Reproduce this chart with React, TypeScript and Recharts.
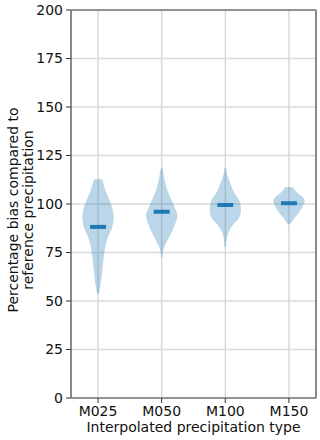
import {
  ComposedChart, Area, XAxis, YAxis, CartesianGrid, ReferenceLine,
} from 'recharts';

const categories = ['M025', 'M050', 'M100', 'M150'];
const yTicks = [0, 25, 50, 75, 100, 125, 150, 175, 200];

// violin outlines: bias level (%) and half width (x units)
const m025Levels = [112.8, 107.1, 100.3, 93.4, 88.2, 83.1, 77.9, 72.7, 65.9, 59.0, 53.9];
const m025Widths = [0.063, 0.115, 0.2, 0.246, 0.225, 0.157, 0.115, 0.089, 0.068, 0.042, 0.016];
const m050Levels = [118.3, 114.0, 108.8, 103.7, 98.5, 94.2, 90.8, 86.5, 81.4, 77.9, 74.5, 71.9];
const m050Widths = [0.016, 0.037, 0.073, 0.13, 0.2, 0.246, 0.225, 0.17, 0.094, 0.042, 0.016, 0.005];
const m100Levels = [118.8, 114.9, 110.6, 105.4, 102.0, 96.8, 92.5, 89.1, 85.6, 81.4, 77.9];
const m100Widths = [0.01, 0.031, 0.079, 0.147, 0.215, 0.246, 0.21, 0.115, 0.052, 0.02, 0.01];
const m150Levels = [108.8, 106.3, 102.9, 101.1, 98.5, 95.1, 92.5, 89.5];
const m150Widths = [0.058, 0.115, 0.23, 0.246, 0.21, 0.147, 0.079, 0.02];

const medians = [88.2, 96.0, 99.5, 100.4];

const profiles = [
  [m025Levels, m025Widths],
  [m050Levels, m050Widths],
  [m100Levels, m100Widths],
  [m150Levels, m150Widths],
];

// category i sits at x = i + 1, like matplotlib's violinplot positions
const violinData = profiles.map(([levels, widths], i) =>
  levels
    .map((v, j) => ({ v, range: [i + 1 - widths[j], i + 1 + widths[j]] }))
    .sort((a, b) => a.v - b.v)
);

const FONT = 'DejaVu Sans, sans-serif';
const tick = { fill: '#111', fontSize: 14, fontFamily: FONT };

function YLabel() {
  return (
    <text transform="translate(21, 210) rotate(-90)" textAnchor="middle"
      fontSize={14} fontFamily={FONT} fill="#111">
      <tspan x={0} dy={-3}>Percentage bias compared to</tspan>
      <tspan x={0} dy={15}>reference precipitation</tspan>
    </text>
  );
}

export default function App() {
  return (
    <div style={{ position: 'fixed', left: 0, top: 0, background: '#fff' }}>
      <ComposedChart width={320} height={440} layout="vertical"
        margin={{ top: 10, right: 4, bottom: 0, left: 0 }}>
        <CartesianGrid stroke="#dadada" strokeWidth={1.5} />
        <XAxis type="number" domain={[0.575, 4.425]} allowDataOverflow
          ticks={[1, 2, 3, 4]} tickFormatter={(t: number) => categories[t - 1]}
          height={42} tick={tick} tickSize={5} tickMargin={3}
          stroke="#444" tickLine={{ stroke: '#333' }}
          label={{ value: 'Interpolated precipitation type', position: 'insideBottom', offset: 8, fill: '#111', fontSize: 14, fontFamily: FONT }} />
        <YAxis type="number" dataKey="v" domain={[0, 200]} allowDataOverflow reversed
          ticks={yTicks} width={71} tick={tick} tickSize={5} tickMargin={3}
          axisLine={{ stroke: '#8a8a8a', strokeWidth: 2 }} tickLine={{ stroke: '#333' }}
          label={<YLabel />} />
        <ReferenceLine y={200} stroke="#444" strokeWidth={1.2} />
        <ReferenceLine x={4.425} stroke="#8a8a8a" strokeWidth={2} />
        {violinData.map((d, i) => (
          <Area key={categories[i]} data={d} dataKey="range" type="monotoneY"
            fill="#1f77b4" fillOpacity={0.3} stroke="none"
            isAnimationActive={false} dot={false} activeDot={false} />
        ))}
        {medians.map((m, i) => (
          <ReferenceLine key={'med' + i}
            segment={[{ x: i + 1 - 0.125, y: m }, { x: i + 1 + 0.125, y: m }]}
            stroke="#1f77b4" strokeWidth={4} />
        ))}
      </ComposedChart>
    </div>
  );
}
